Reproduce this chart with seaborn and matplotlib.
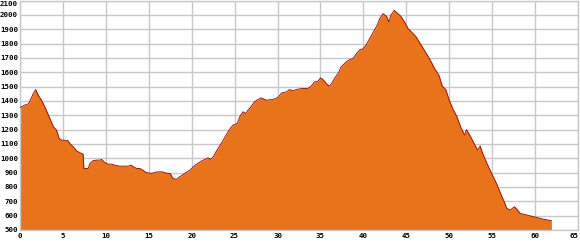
import matplotlib
matplotlib.use("Agg")
import matplotlib.pyplot as plt
import seaborn as sns
import pandas as pd

distance_km = [0, 0.6, 1.0, 1.2, 1.55, 1.82, 2.13, 2.5, 2.9, 3.4, 3.9, 4.26, 4.57, 4.84, 5.2, 5.6, 5.8,
               6.2, 6.6, 7.0, 7.36, 7.44, 7.95, 8.14, 8.5, 8.9, 9.3, 9.5, 9.9, 10.3, 10.7, 11.05, 11.6,
               12.6, 12.98, 13.2, 13.6, 13.95, 14.3, 14.7, 15.3, 15.9, 16.5, 16.9, 17.25, 17.5, 17.8,
               18.2, 18.6, 19.2, 19.8, 20.4, 21.0, 21.55, 21.9, 22.2, 22.5, 22.9, 23.5, 24.0, 24.35,
               24.8, 25.3, 25.6, 25.97, 26.3, 26.55, 26.9, 27.3, 27.7, 28.1, 28.7, 29.3, 29.8, 30.1,
               30.5, 31.05, 31.4, 31.8, 32.2, 32.8, 33.5, 33.9, 34.3, 34.7, 35.0, 35.3, 35.7, 36.0,
               36.3, 36.7, 37.1, 37.4, 38.0, 38.4, 38.8, 39.2, 39.6, 40.0, 40.4, 40.95, 41.6, 41.9,
               42.3, 42.7, 42.98, 43.2, 43.6, 43.95, 44.35, 44.8, 45.2, 45.6, 46.15, 46.75, 47.1,
               47.7, 48.3, 48.8, 49.2, 49.6, 50.0, 50.4, 50.9, 51.4, 51.8, 52.0, 52.4, 52.9, 53.3,
               53.6, 53.9, 54.3, 54.9, 55.5, 55.9, 56.4, 56.7, 57.1, 57.6, 57.9, 58.25, 59.05, 59.8,
               60.6, 61.4, 61.9]
elevation_m = [1354, 1372, 1380, 1405, 1451, 1479, 1440, 1405, 1358, 1289, 1219, 1196, 1138, 1126, 1126,
               1122, 1103, 1080, 1052, 1038, 1029, 929, 929, 964, 983, 987, 987, 992, 969, 959, 959, 952,
               945, 945, 952, 941, 929, 929, 918, 900, 895, 904, 906, 899, 894, 894, 860, 853, 871, 894,
               918, 952, 976, 992, 1003, 992, 1010, 1052, 1108, 1161, 1196, 1231, 1242, 1289, 1324,
               1312, 1335, 1358, 1393, 1409, 1421, 1405, 1409, 1416, 1428, 1456, 1463, 1479, 1470,
               1479, 1486, 1486, 1502, 1532, 1537, 1560, 1549, 1521, 1502, 1521, 1563, 1595, 1637,
               1672, 1688, 1695, 1730, 1757, 1764, 1799, 1857, 1927, 1973, 2008, 1990, 1950, 1997,
               2031, 2013, 1990, 1950, 1904, 1881, 1846, 1788, 1753, 1695, 1625, 1579, 1502, 1479,
               1405, 1347, 1289, 1208, 1161, 1200, 1161, 1103, 1057, 1085, 1034, 976, 899, 825, 767,
               697, 651, 639, 662, 644, 616, 604, 593, 581, 570, 565]

x_ticks = list(range(0, 70, 5))
y_ticks = list(range(500, 2200, 100))

df = pd.DataFrame({"km": distance_km, "ele": elevation_m})

sns.set_style("whitegrid")
fig = plt.figure(figsize=(5.8, 2.5), dpi=100)
ax = fig.add_axes([20 / 580, 20 / 250, 558 / 580, 229.5 / 250])

ax.fill_between(df["km"], 500, df["ele"], color="#E8731A", linewidth=0, zorder=2)
sns.lineplot(data=df, x="km", y="ele", ax=ax, color="#A01408", linewidth=0.7, zorder=3)

ax.set_xlim(0, 65)
ax.set_ylim(500, 2100)
ax.set_xticks(x_ticks)
ax.set_yticks(y_ticks)
ax.set_xticklabels([str(v) for v in x_ticks])
ax.set_yticklabels([str(v) for v in y_ticks])
ax.set_xlabel("")
ax.set_ylabel("")
ax.grid(True, color="#C8C8C8", linewidth=1.0, zorder=0)
ax.set_axisbelow(True)
for s in ax.spines.values():
    s.set_color("#C8C8C8")
    s.set_linewidth(1.0)
ax.tick_params(axis="both", length=0, labelsize=5.3, colors="#000000")
ax.tick_params(axis="y", pad=1.5)
ax.tick_params(axis="x", pad=2)
for lab in ax.get_xticklabels() + ax.get_yticklabels():
    lab.set_family("DejaVu Sans Mono")
    lab.set_fontweight("bold")
ax.get_yticklabels()[-1].set_verticalalignment("top")
ax.get_xticklabels()[-1].set_horizontalalignment("right")

fig.savefig("out.png", dpi=100, facecolor="white")
